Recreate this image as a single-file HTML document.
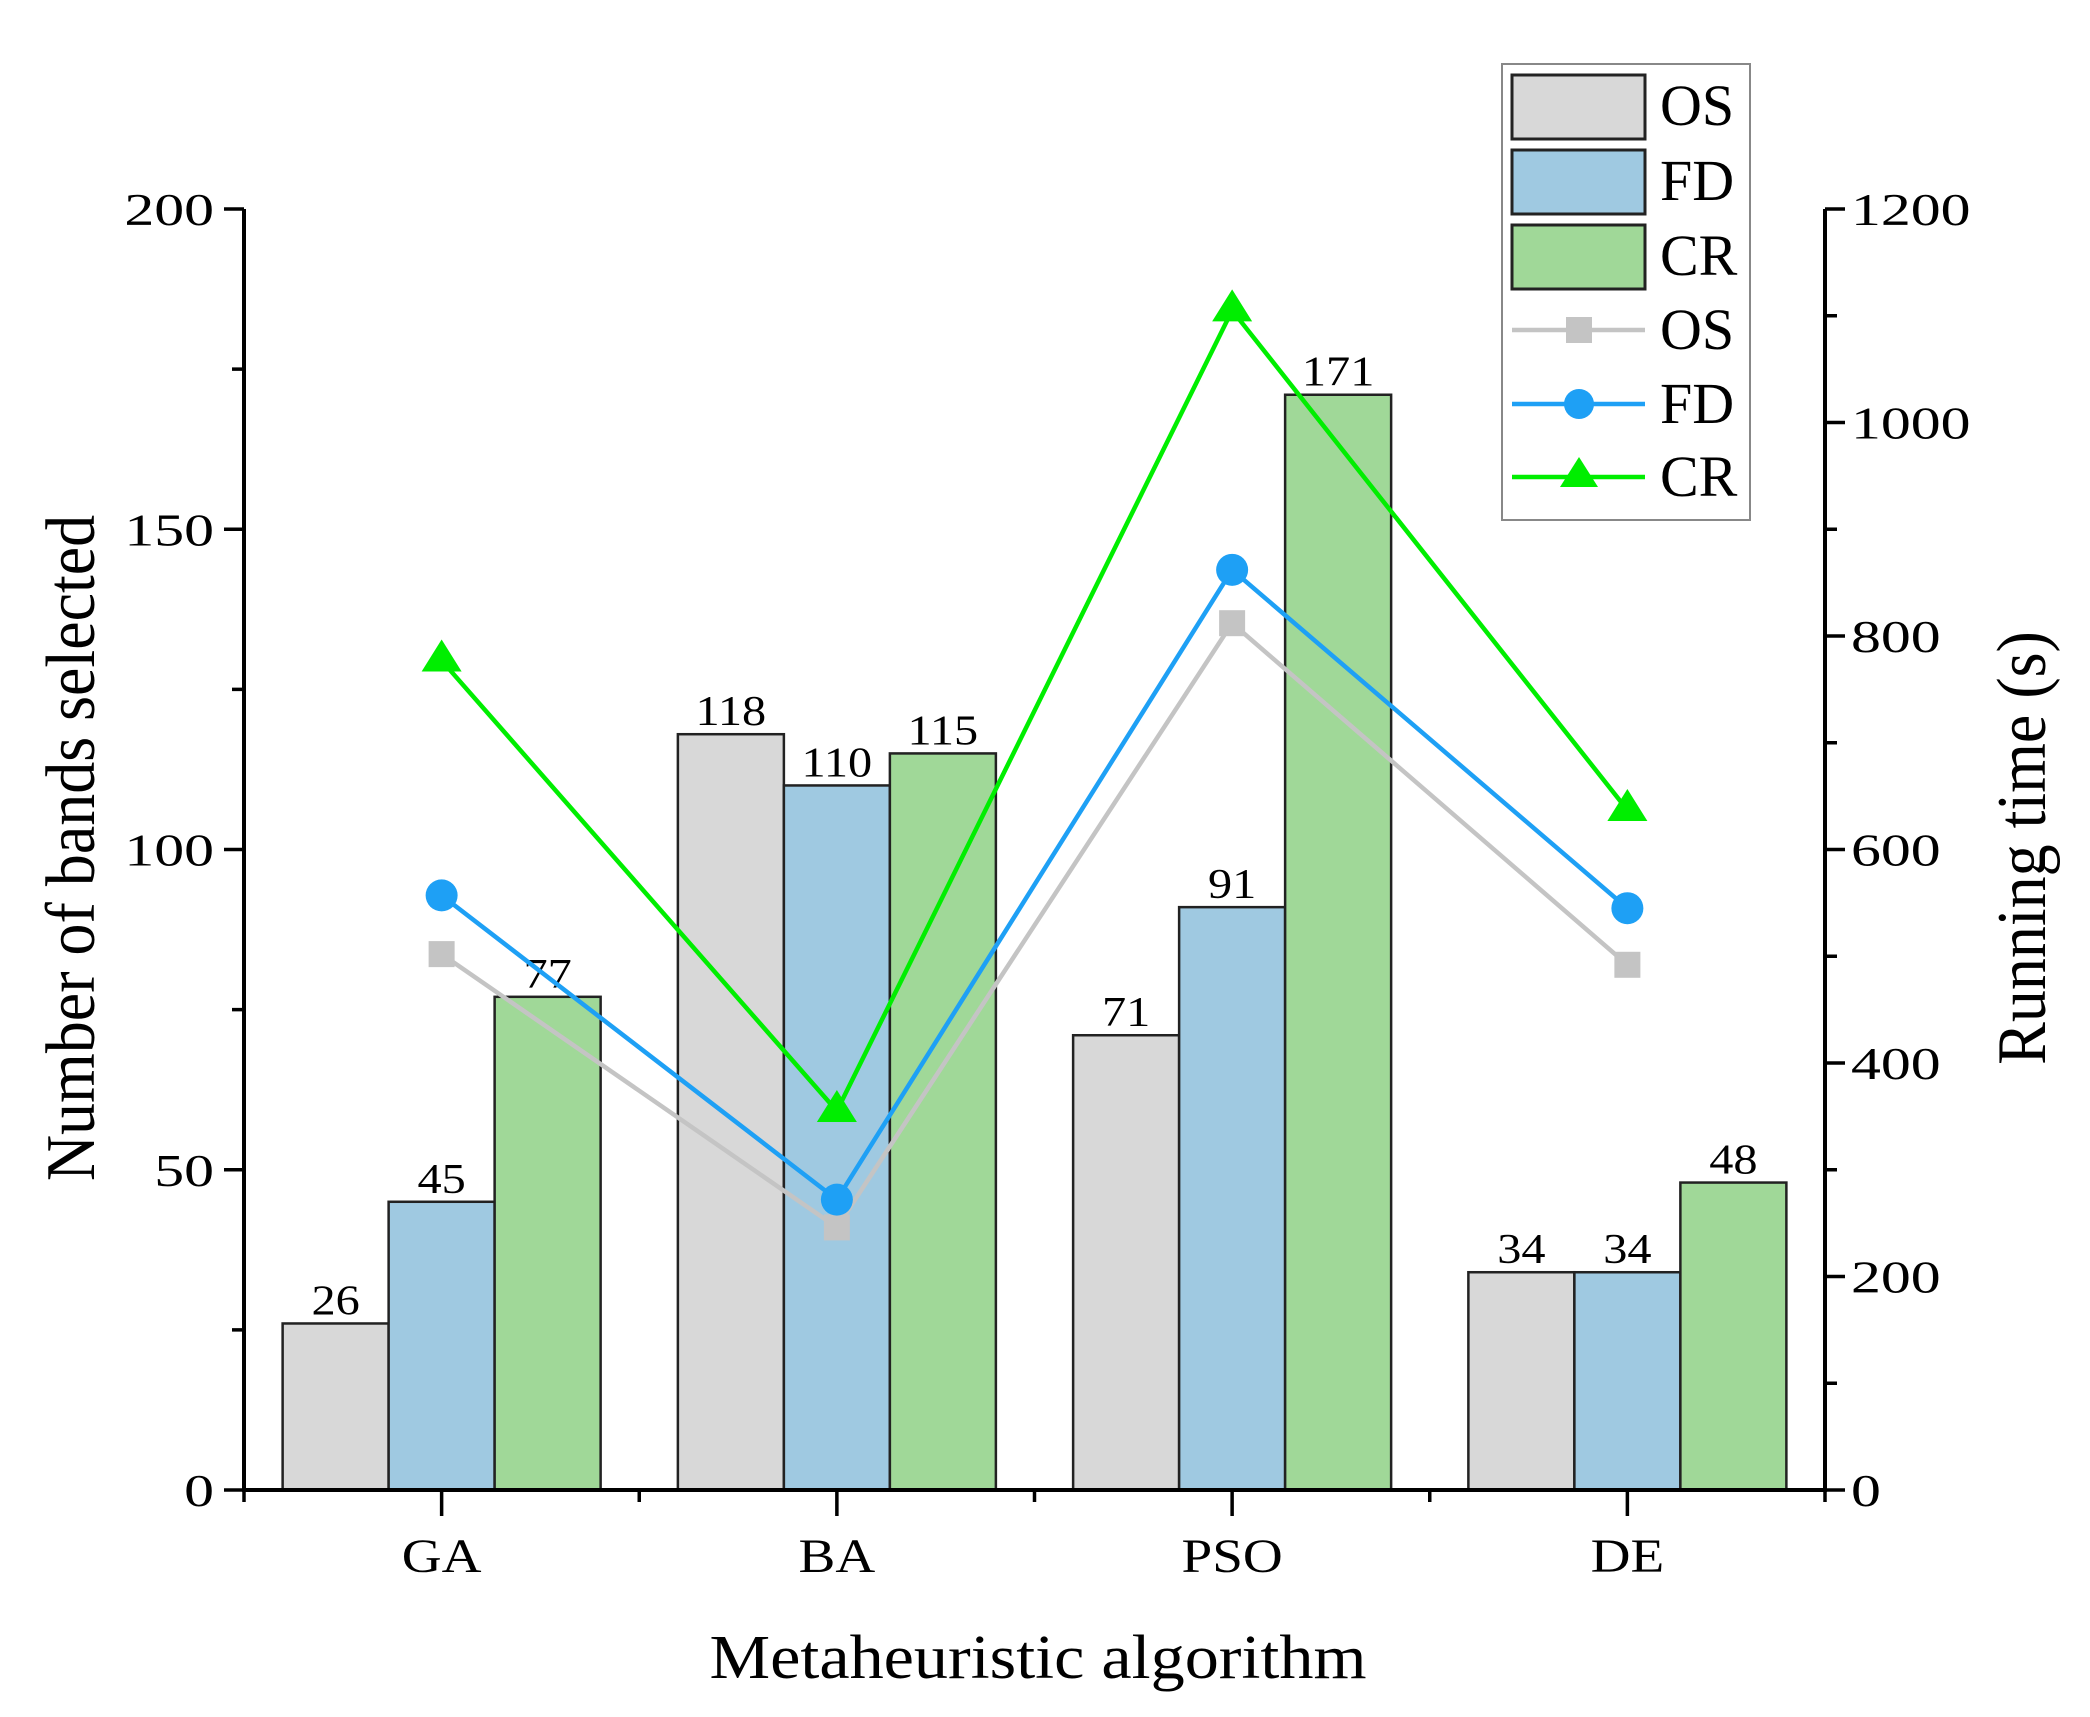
<!DOCTYPE html>
<html><head><meta charset="utf-8"><style>
html,body{margin:0;padding:0;background:#fff;}
svg{display:block;font-family:"Liberation Serif",serif;}
</style></head><body>
<svg id="chart" width="2090" height="1717" viewBox="0 0 2090 1717" xmlns="http://www.w3.org/2000/svg">
<g id="bars"></g>
<g id="lines"></g>
<g id="axes"></g>
<text x="0" y="0" transform="translate(94,848) rotate(-90) scale(1.0,1.1)" font-size="64" text-anchor="middle">Number of bands selected</text>
<text x="0" y="0" transform="translate(2045,848) rotate(-90) scale(1.0,1.1)" font-size="64" text-anchor="middle">Running time (s)</text>
<text x="0" y="0" transform="translate(1038,1678) scale(1.1,1)" font-size="62" text-anchor="middle">Metaheuristic algorithm</text>
<g id="legend">
<rect x="1502" y="64" width="248" height="456" fill="#fff" stroke="#888" stroke-width="2"/>
<g><rect x="1512" y="75" width="133" height="64" fill="#d8d8d8" stroke="#222" stroke-width="3"/><text x="1660" y="125" font-size="58">OS</text></g>
<g><rect x="1512" y="150" width="133" height="64" fill="#9fc9e1" stroke="#222" stroke-width="3"/><text x="1660" y="200" font-size="58">FD</text></g>
<g><rect x="1512" y="225" width="133" height="64" fill="#a0d898" stroke="#222" stroke-width="3"/><text x="1660" y="275" font-size="58">CR</text></g>
<g><line x1="1512" y1="330" x2="1645" y2="330" stroke="#c4c4c4" stroke-width="4.5"/><rect x="1566" y="317" width="26" height="26" fill="#c4c4c4"/><text x="1660" y="349" font-size="58">OS</text></g>
<g><line x1="1512" y1="404" x2="1645" y2="404" stroke="#1ea0f5" stroke-width="4.5"/><circle cx="1579" cy="404" r="15" fill="#1ea0f5"/><text x="1660" y="423" font-size="58">FD</text></g>
<g><line x1="1512" y1="477" x2="1645" y2="477" stroke="#00ee00" stroke-width="4.5"/><polygon points="1579,457 1598,487 1560,487" fill="#00ee00"/><text x="1660" y="496" font-size="58">CR</text></g>
</g>
</svg>
<script>
const categories = ["GA","BA","PSO","DE"];
const barOS = [26,118,71,34];
const barFD = [45,110,91,34];
const barCR = [77,115,171,48];
const timeOS = [502,246,812,492];
const timeFD = [557,272,862,545];
const timeCR = [777,355,1105,637];
const leftTicks = [0,50,100,150,200];
const rightTicks = [0,200,400,600,800,1000,1200];

const NS="http://www.w3.org/2000/svg";
const X0=244, X1=1825, Y0=1490, Y1=209;
const catW=(X1-X0)/4;
const xCat=i=>X0+catW*(i+0.5);
const yL=v=>Y0-(v/200)*(Y0-Y1);
const yR=v=>Y0-(v/1200)*(Y0-Y1);
const BW=106;
function mk(tag,attrs,parent){const e=document.createElementNS(NS,tag);for(const k in attrs)e.setAttribute(k,attrs[k]);parent.appendChild(e);return e;}
function txt(x,y,s,size,anchor,sx,parent){const t=mk('text',{x:0,y:0,transform:`translate(${x},${y}) scale(${sx},1)`,'font-size':size,'text-anchor':anchor},parent);t.textContent=s;return t;}
const gb=document.getElementById('bars'), gl=document.getElementById('lines'), ga=document.getElementById('axes');
const barSeries=[[barOS,'#d8d8d8','os'],[barFD,'#9fc9e1','fd'],[barCR,'#a0d898','cr']];
barSeries.forEach((s,si)=>{
  s[0].forEach((v,i)=>{
    const x=xCat(i)+(si-1.5)*BW;
    const r=mk('rect',{x:x,y:yL(v),width:BW,height:Y0-yL(v),fill:s[1],stroke:'#222','stroke-width':2.5},gb);
    
    
    const t=txt(x+BW/2,yL(v)-9,v,42,'middle',1.15,gb);
    
    
  });
});
const lineSeries=[[timeOS,'#c4c4c4','os'],[timeFD,'#1ea0f5','fd'],[timeCR,'#00ee00','cr']];
lineSeries.forEach(s=>{
  const pts=s[0].map((v,i)=>xCat(i)+','+yR(v)).join(' ');
  const pl=mk('polyline',{points:pts,fill:'none',stroke:s[1],'stroke-width':4.5},gl);
  
  
  s[0].forEach((v,i)=>{
    const x=xCat(i), y=yR(v); let m;
    if(s[2]==='os') m=mk('rect',{x:x-13,y:y-13,width:26,height:26,fill:s[1]},gl);
    else if(s[2]==='fd') m=mk('circle',{cx:x,cy:y,r:16,fill:s[1]},gl);
    else m=mk('polygon',{points:`${x},${y-21} ${x+20},${y+11} ${x-20},${y+11}`,fill:s[1]},gl);
    
    
  });
});
mk('line',{x1:X0,y1:Y1,x2:X0,y2:Y0+2,stroke:'#000','stroke-width':4},ga);
mk('line',{x1:X1,y1:Y1,x2:X1,y2:Y0+2,stroke:'#000','stroke-width':4},ga);
mk('line',{x1:X0-2,y1:Y0,x2:X1+2,y2:Y0,stroke:'#000','stroke-width':4},ga);
for(let v=0;v<=200;v+=25){const y=yL(v);const maj=v%50===0;mk('line',{x1:X0-(maj?20:12),y1:y,x2:X0,y2:y,stroke:'#000','stroke-width':3.5},ga);}
leftTicks.forEach(v=>{const t=txt(X0-30,yL(v)+16,v,46,'end',1.3,ga);});
for(let v=0;v<=1200;v+=100){const y=yR(v);const maj=v%200===0;mk('line',{x1:X1,y1:y,x2:X1+(maj?20:12),y2:y,stroke:'#000','stroke-width':3.5},ga);}
rightTicks.forEach(v=>{const t=txt(X1+26,yR(v)+16,v,46,'start',1.3,ga);});
for(let i=0;i<=4;i++){const x=X0+catW*i;mk('line',{x1:x,y1:Y0,x2:x,y2:Y0+12,stroke:'#000','stroke-width':3.5},ga);}
categories.forEach((c,i)=>{const x=xCat(i);mk('line',{x1:x,y1:Y0,x2:x,y2:Y0+26,stroke:'#000','stroke-width':3.5},ga);
  const t=txt(x,1572,c,48,'middle',1.15,ga);});
</script>
</body></html>
